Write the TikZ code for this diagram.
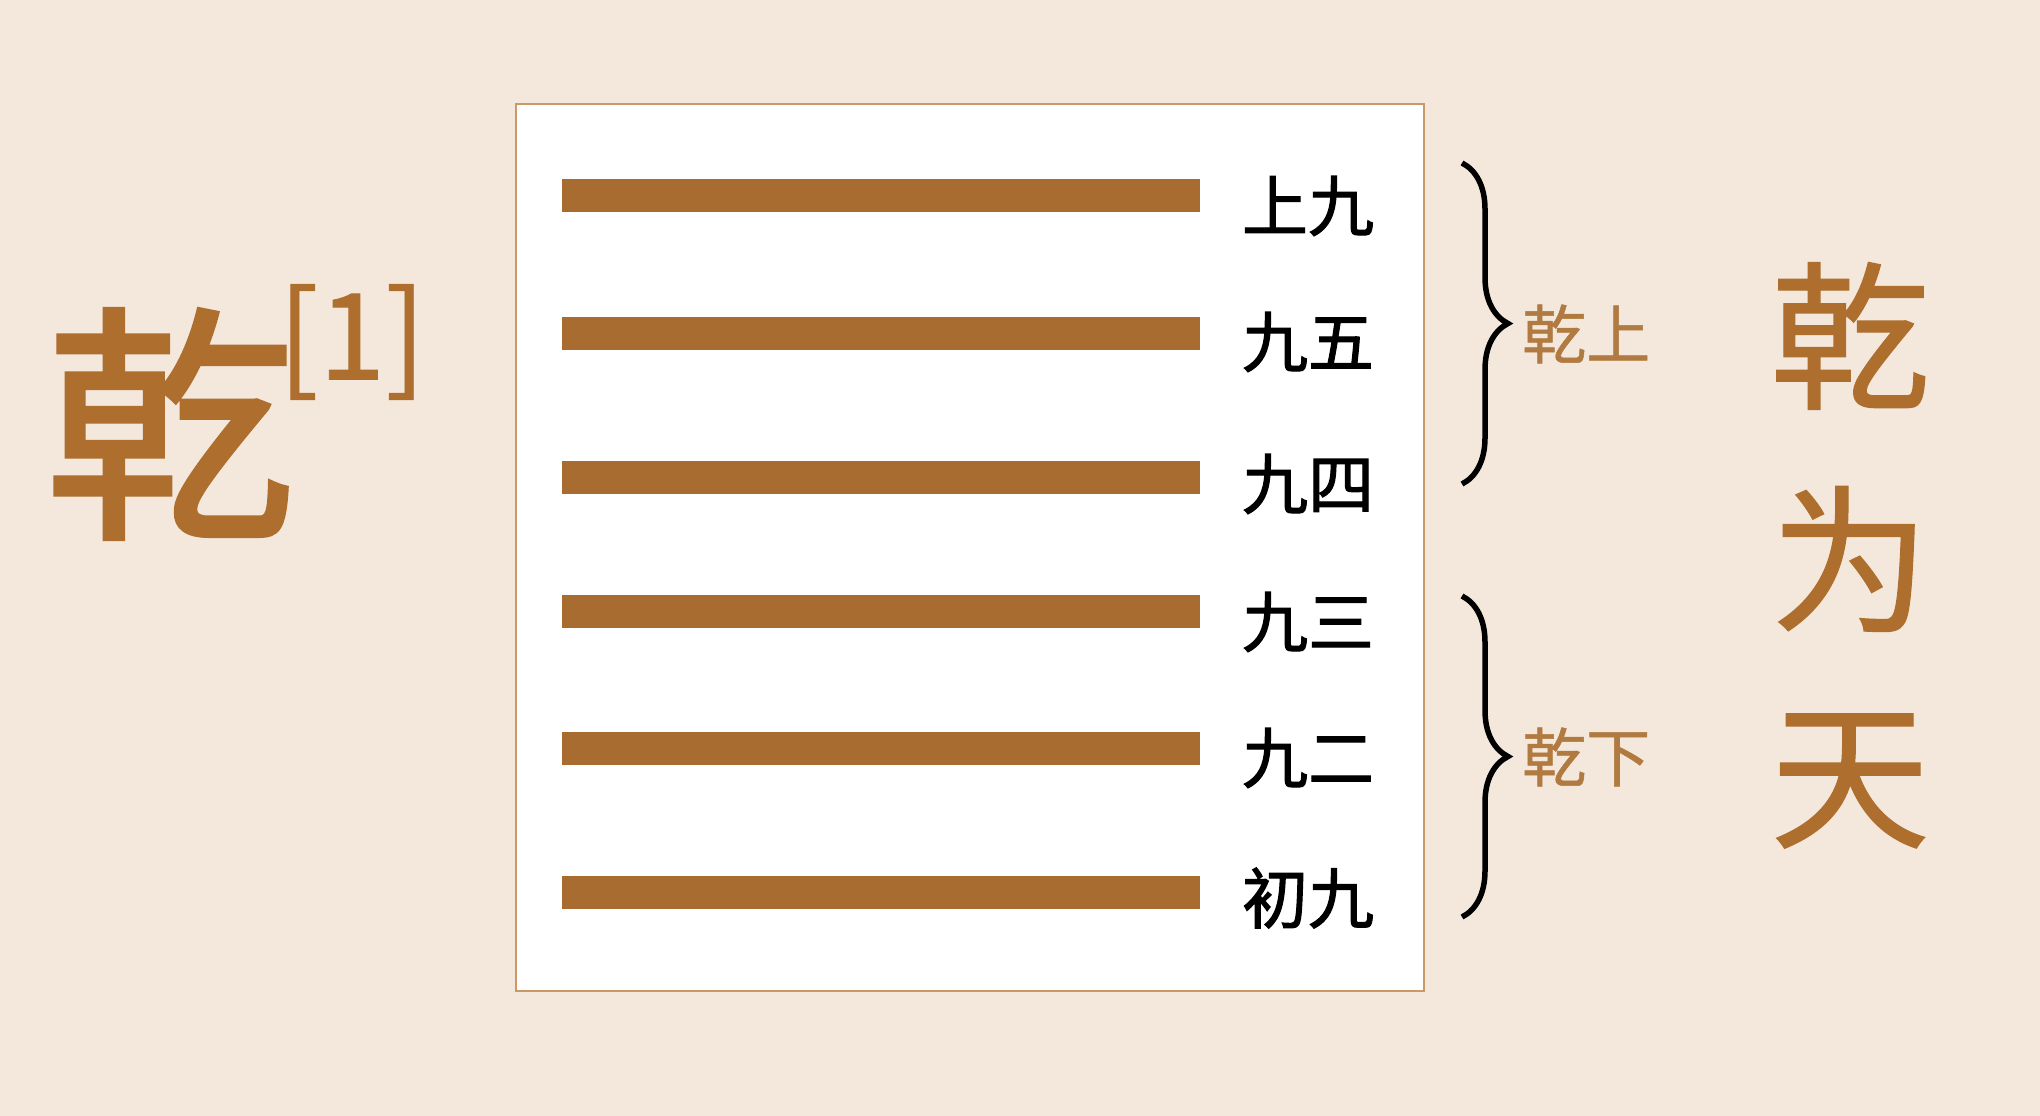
\documentclass[tikz,border=0pt]{standalone}
\usepackage{fontspec}
\newfontfamily\cjk{Noto Sans CJK SC}
\newfontfamily\cjkb[FakeBold=1.6]{Noto Sans CJK SC}
\newfontfamily\cjkm[FakeBold=0.8]{Noto Sans CJK SC}
\usetikzlibrary{decorations.pathreplacing}
\definecolor{bg}{HTML}{F4E8DC}
\definecolor{barc}{HTML}{A86C30}
\definecolor{titlec}{HTML}{AD6E2E}
\definecolor{framec}{HTML}{C99A68}
\definecolor{subc}{HTML}{B07A40}
\tikzset{
  yao/.style={fill=barc, draw=none, minimum width=638pt, minimum height=33pt, inner sep=0pt},
  yaolabel/.style={font=\cjkb\fontsize{66}{66}\selectfont, text=black, inner sep=0pt},
  bracestyle/.style={decorate, decoration={brace, amplitude=46pt}, line width=5.5pt, black},
  trigram/.style={font=\cjkm\fontsize{64}{64}\selectfont, text=subc, inner sep=0pt, anchor=west},
  bigchar/.style={font=\cjkm\fontsize{160}{160}\selectfont, text=titlec, inner sep=0pt}
}
\begin{document}
\begin{tikzpicture}[x=1pt,y=-1pt]
\fill[bg] (0,0) rectangle (2040,1116);
\useasboundingbox (0,0) rectangle (2040,1116);
\node[draw=framec, fill=white, line width=1.5pt, minimum width=908pt, minimum height=887pt, anchor=north west, inner sep=0pt] (box) at (515,103) {};
% bars
\node[yao] (b6) at (881,195) {};
\node[yao] (b5) at (881,333) {};
\node[yao] (b4) at (881,477) {};
\node[yao] (b3) at (881,611) {};
\node[yao] (b2) at (881,748) {};
\node[yao] (b1) at (881,892) {};
% labels
\node[yaolabel] (l6) at (1308,206) {上九};
\node[yaolabel] (l5) at (1308,342) {九五};
\node[yaolabel] (l4) at (1308,484) {九四};
\node[yaolabel] (l3) at (1308,622) {九三};
\node[yaolabel] (l2) at (1308,758) {九二};
\node[yaolabel] (l1) at (1308,898) {初九};
% braces
\coordinate (ua) at (1462,163);
\coordinate (ub) at (1462,484);
\coordinate (la) at (1462,596);
\coordinate (lb) at (1462,917);
\draw[bracestyle] (ua) -- (ub);
\draw[bracestyle] (la) -- (lb);
\node[trigram] (upper) at (1522,334) {乾上};
\node[trigram] (lower) at (1522,757) {乾下};
% title
\node[font=\cjkb\fontsize{250}{250}\selectfont, text=titlec, inner sep=0pt] (title) at (170,424) {乾};
\node[font=\cjkm\fontsize{120}{120}\selectfont, text=titlec, inner sep=0pt] (note) at (352,342) {[1]};
% right column
\node[bigchar] (c1) at (1850,336) {乾};
\node[bigchar] (c2) at (1850,559) {为};
\node[bigchar] (c3) at (1850,781) {天};
\end{tikzpicture}
\end{document}
